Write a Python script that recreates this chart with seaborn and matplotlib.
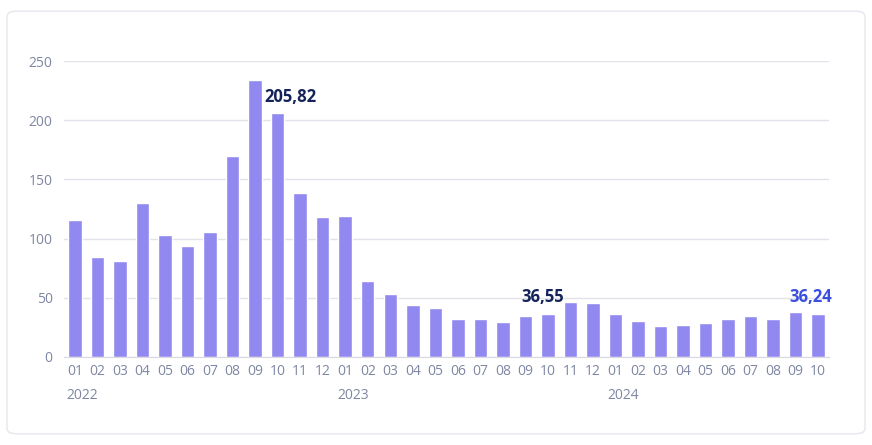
import matplotlib
matplotlib.use("Agg")
import matplotlib.pyplot as plt
from matplotlib.patches import FancyBboxPatch
import seaborn as sns
import pandas as pd

# monthly values, 2022-01 .. 2024-10
periods = [f"{y}-{m:02d}" for y in (2022, 2023, 2024) for m in range(1, 13)][:34]
values = [115.6, 84.3, 81.2, 130.2, 103.0, 94.1, 105.8, 169.7, 233.8, 205.82, 138.5, 118.3,
          119.2, 64.5, 53.0, 43.5, 41.8, 32.0, 32.0, 29.2, 34.2, 36.55, 46.5, 45.8,
          36.7, 30.0, 25.8, 26.7, 28.9, 31.7, 34.4, 32.5, 38.1, 36.24]
month_labels = [p[5:] for p in periods]
years = ["2022", "2023", "2024"]
highlights = {"2022-10": "#14245a", "2023-10": "#14245a", "2024-10": "#3a4ee0"}

df = pd.DataFrame({"period": periods, "value": values})

sns.set_style("white")
plt.rcParams["font.family"] = ["Open Sans", "DejaVu Sans"]

fig = plt.figure(figsize=(8.72, 4.45), dpi=100)
card = FancyBboxPatch((0.008, 0.025), 0.984, 0.95, boxstyle="round,pad=0,rounding_size=0.012",
                      transform=fig.transFigure, facecolor="white", edgecolor="#e6e7ee",
                      lw=1.0, zorder=-10)
fig.patches.append(card)

ax = fig.add_axes([0.0731, 0.1978, 0.878, 0.665])
ax.patch.set_visible(False)
sns.barplot(data=df, x="period", y="value", color="#9189f0", width=0.6, saturation=1, ax=ax)

ax.set_ylim(0, 250)
ax.set_xlim(-0.5, len(periods) - 0.5)
ax.set_yticks([0, 50, 100, 150, 200, 250])
ax.yaxis.grid(True, color="#e2e3ea", lw=1)
ax.set_axisbelow(True)
for s in ["left", "right", "top"]:
    ax.spines[s].set_visible(False)
ax.spines["bottom"].set_color("#d8d9e2")
ax.set_xticks(range(len(periods)))
ax.set_xticklabels(month_labels)
ax.tick_params(axis="both", length=0, labelsize=10, labelcolor="#7f86a3")
ax.tick_params(axis="x", pad=5)
ax.tick_params(axis="y", pad=8)
ax.set_xlabel("")
ax.set_ylabel("")

# year labels under first month of each year
for yr in years:
    i = periods.index(yr + "-01")
    ax.annotate(yr, xy=(i, 0), xycoords=("data", "axes fraction"), xytext=(-6, -27.5),
                textcoords="offset points", ha="left", va="center", fontsize=10, color="#7f86a3")

offsets = {"2022-10": 9, "2023-10": -4, "2024-10": -5}
for p, col in highlights.items():
    i = periods.index(p)
    v = values[i]
    ax.annotate(f"{v:.2f}".replace(".", ","), xy=(i, v), xytext=(offsets[p], 12),
                textcoords="offset points", ha="center", va="center",
                fontsize=12, fontweight="bold", color=col)

fig.savefig("out.png", dpi=100)
